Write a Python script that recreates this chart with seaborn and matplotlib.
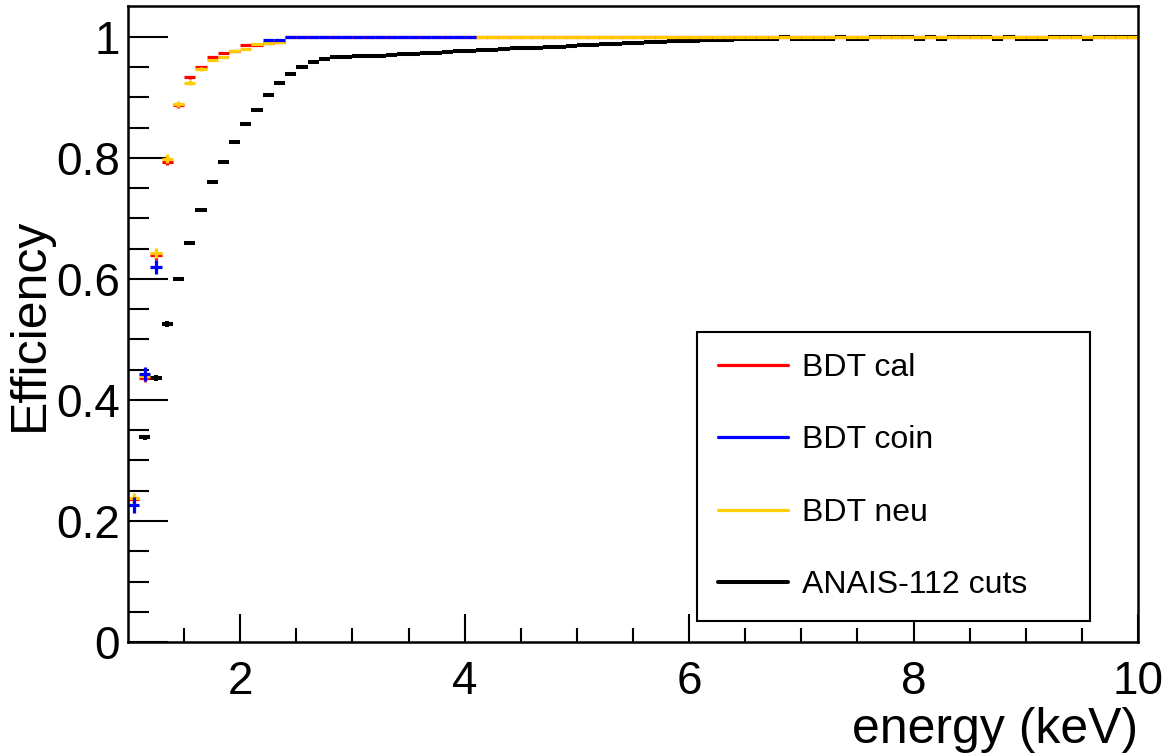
import numpy as np
import matplotlib
matplotlib.use("Agg")
import matplotlib.pyplot as plt
from matplotlib.lines import Line2D
import seaborn as sns

# bin centres, 0.1 keV bins from 1 to 10 keV
energy = np.round(np.arange(1.05, 10.0, 0.1), 2)

nan = np.nan

# ANAIS-112 cuts efficiency
eff_anais = [nan, 0.338, 0.436, 0.525, 0.600, 0.659, 0.714, 0.760, 0.793, 0.827,
             0.856, 0.880, 0.904, 0.923, 0.938, 0.950, 0.958, 0.963, 0.966, 0.967,
             0.968, 0.969, 0.969, 0.970, 0.971, 0.972, 0.973, 0.974, 0.975, 0.976,
             0.977, 0.978, 0.979, 0.980, 0.981, 0.982, 0.982, 0.983, 0.984, 0.985,
             0.986, 0.987, 0.988, 0.989, 0.990, 0.990, 0.991, 0.992, 0.993, 0.993,
             0.994, 0.995, 0.995, 0.995, 0.996, 0.996, 0.996, 0.996, 1.000, 0.997,
             0.997, 0.997, 0.997, 1.000, 0.997, 0.997, 1.000, 1.000, 1.000, 1.000,
             0.997, 1.000, 0.997, 1.000, 1.000, 1.000, 1.000, 0.997, 1.000, 0.997,
             0.997, 0.997, 1.000, 1.000, 1.000, 0.997, 1.000, 1.000, 1.000, 1.000]
err_anais = [nan, 0.004, 0.005, 0.005, 0.004, 0.003, 0.003, 0.003, 0.002, 0.002] + [0.0] * 80

# BDT trained on calibration
eff_cal = [0.236, 0.437, 0.639, 0.794, 0.887, 0.933, 0.950, 0.966, 0.973, 0.977,
           0.986, 0.987, 0.990, 0.991] + [1.0] * 76
err_cal = [0.007, 0.007, 0.007, 0.006, 0.004, 0.003, 0.002, 0.002, 0.001, 0.001] + [0.0] * 80

# BDT trained on neutron data
eff_neu = [0.238, 0.439, 0.643, 0.799, 0.889, 0.924, 0.947, 0.962, 0.967, 0.977,
           0.980, 0.988, 0.990, 0.991] + [nan] * 17 + [1.0] * 59
err_neu = [0.008, 0.008, 0.008, 0.007, 0.005, 0.004, 0.003, 0.002, 0.002, 0.001] + [0.0] * 80

# BDT trained on coincidences
eff_coin = [0.226, 0.443, 0.620] + [nan] * 9 + [0.995, 0.995] + [1.0] * 17 + [nan] * 59
err_coin = [0.013, 0.012, 0.012] + [0.0] * 87

labels = ["BDT cal", "BDT coin", "BDT neu", "ANAIS-112 cuts"]
colors = {"BDT cal": "#ff0000", "BDT coin": "#0000ff",
          "BDT neu": "#ffcc00", "ANAIS-112 cuts": "#000000"}

sns.set_theme(style="ticks")
plt.rcParams["font.family"] = ["Liberation Sans", "DejaVu Sans"]
plt.rcParams["text.color"] = "black"
plt.rcParams["axes.labelcolor"] = "black"
plt.rcParams["xtick.color"] = "black"
plt.rcParams["ytick.color"] = "black"

fig = plt.figure(figsize=(11.7, 7.54), dpi=100)
ax = fig.add_axes([0.1094, 0.1485, 0.8632, 0.8435])

series = [("ANAIS-112 cuts", eff_anais, err_anais, 2.9),
          ("BDT cal", eff_cal, err_cal, 2.3),
          ("BDT neu", eff_neu, err_neu, 2.3),
          ("BDT coin", eff_coin, err_coin, 2.3)]
for name, eff, err, lw in series:
    ax.errorbar(energy, eff, xerr=0.05, yerr=err, fmt="none",
                ecolor=colors[name], elinewidth=lw, capsize=0)

ax.set_xlim(1, 10)
ax.set_ylim(0, 1.051)
ax.set_xticks([2, 4, 6, 8, 10])
ax.set_xticks(np.arange(1.5, 10, 0.5), minor=True)
ax.set_yticks([0, 0.2, 0.4, 0.6, 0.8, 1.0])
ax.set_yticklabels(["0", "0.2", "0.4", "0.6", "0.8", "1"])
ax.set_yticks(np.arange(0.05, 1.05, 0.05), minor=True)

ax.tick_params(axis="both", which="both", direction="in", colors="black",
               labelcolor="black", labelsize=33, width=1.5)
ax.tick_params(axis="x", which="major", length=20, pad=13)
ax.tick_params(axis="x", which="minor", length=10)
ax.tick_params(axis="y", which="major", length=29, pad=6)
ax.tick_params(axis="y", which="minor", length=15)
for sp in ax.spines.values():
    sp.set_linewidth(1.8)
    sp.set_color("black")

ax.set_xlabel("energy (keV)", fontsize=36, loc="right", labelpad=2, color="black")
ax.set_ylabel("Efficiency", fontsize=36, labelpad=2, color="black")

handles = [Line2D([], [], color=colors[n], lw=2.9 if n == "ANAIS-112 cuts" else 2.3)
           for n in labels]
leg = ax.legend(handles, labels, loc="upper left",
                bbox_to_anchor=(0.5634, 0.4874, 0.389, 0.0), mode="expand",
                fontsize=23, frameon=True, fancybox=False, framealpha=1,
                edgecolor="black", borderpad=0.65, labelspacing=1.33,
                handlelength=2.2, handletextpad=0.45, borderaxespad=0,
                labelcolor="black")
leg.get_frame().set_linewidth(1.5)

fig.savefig("out.png", dpi=100)
